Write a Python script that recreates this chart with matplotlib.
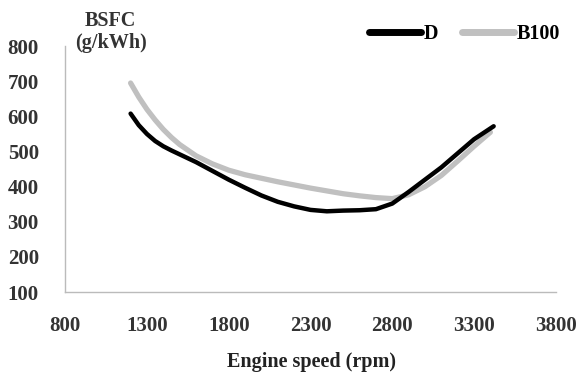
import matplotlib.pyplot as plt

# engine speed (rpm) vs BSFC (g/kWh)
rpm_d = [1200, 1250, 1300, 1350, 1400, 1450, 1500, 1600, 1700, 1800, 1900, 2000, 2100,
         2200, 2300, 2400, 2500, 2600, 2700, 2800, 2900, 3000, 3100, 3200, 3300, 3420]
bsfc_d = [608, 575, 550, 530, 515, 503, 492, 470, 445, 420, 397, 375, 357,
          344, 334, 330, 332, 333, 336, 352, 385, 420, 455, 495, 535, 572]

rpm_b = [1200, 1250, 1300, 1350, 1400, 1450, 1500, 1600, 1700, 1800, 1900, 2000, 2100,
         2200, 2300, 2400, 2500, 2600, 2700, 2800, 2900, 3000, 3100, 3200, 3300, 3400]
bsfc_b = [695, 655, 620, 590, 563, 540, 520, 488, 465, 447, 434, 424, 414,
          405, 396, 388, 380, 374, 369, 366, 377, 400, 432, 473, 515, 555]

xticks = [800, 1300, 1800, 2300, 2800, 3300, 3800]
yticks = [100, 200, 300, 400, 500, 600, 700, 800]

plt.rcParams['font.family'] = ['Liberation Serif', 'DejaVu Serif']
plt.rcParams['font.weight'] = 'bold'

fig = plt.figure(figsize=(5.82, 3.75), dpi=100)
ax = fig.add_axes([0.112, 0.221, 0.843, 0.656])

ax.plot(rpm_b, bsfc_b, color='#c0c0c0', lw=3.8, solid_capstyle='round',
        solid_joinstyle='round', label='B100')
ax.plot(rpm_d, bsfc_d, color='black', lw=3.2, solid_capstyle='round',
        solid_joinstyle='round', label='D')

ax.set_xlim(800, 3800)
ax.set_ylim(100, 800)
ax.set_xticks(xticks)
ax.set_yticks(yticks)
ax.tick_params(length=0, labelsize=15, colors='#333333')
ax.tick_params(axis='x', pad=17)
ax.tick_params(axis='y', pad=19)
for s in ['top', 'right']:
    ax.spines[s].set_visible(False)
for s in ['left', 'bottom']:
    ax.spines[s].set_color('#bbbbbb')
    ax.spines[s].set_linewidth(1.0)

fig.text(0.19, 0.945, 'BSFC', ha='center', va='center', fontsize=14.5, color='#333333')
fig.text(0.19, 0.885, '(g/kWh)', ha='center', va='center', fontsize=14.5, color='#333333')
fig.text(0.535, 0.035, 'Engine speed (rpm)', ha='center', va='center', fontsize=14.5, color='#222222')

h, l = ax.get_legend_handles_labels()
leg = ax.legend(h[::-1], l[::-1], loc='upper right', bbox_to_anchor=(1.045, 1.165), ncol=2,
                frameon=False, handlelength=2.6, handletextpad=0.1, columnspacing=1.2,
                fontsize=14.5)
for line in leg.get_lines():
    line.set_linewidth(5)

fig.savefig('out.png', dpi=100)
